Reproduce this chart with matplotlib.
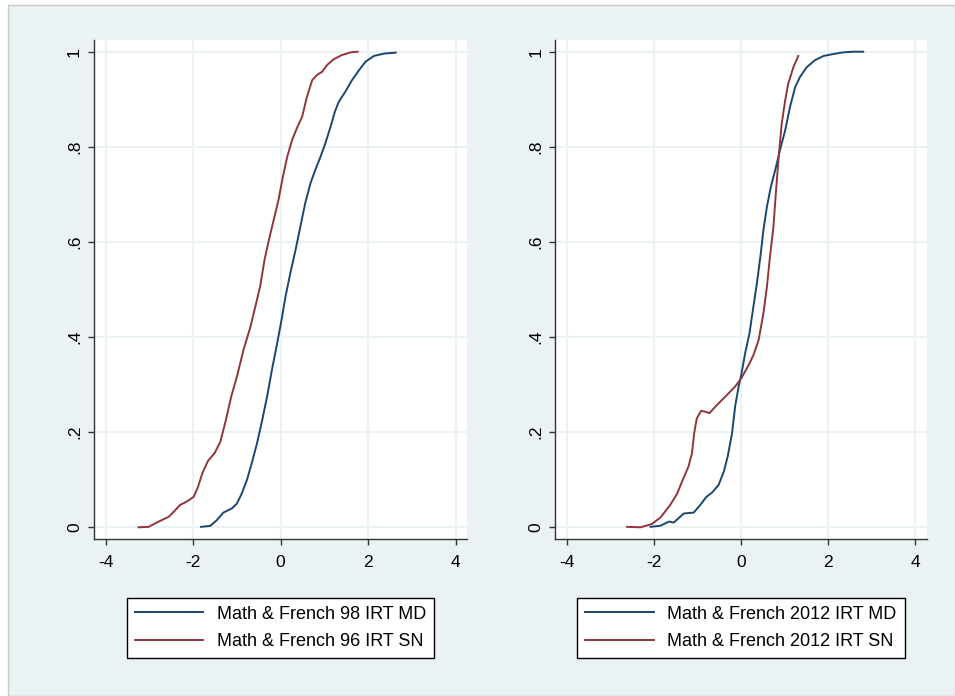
import numpy as np
import matplotlib
matplotlib.use("Agg")
import matplotlib.pyplot as plt
from matplotlib.patches import Rectangle

# %% Data

# Left panel: cumulative distributions
md98_x = [-1.82, -1.61, -1.46, -1.31, -1.11, -1.00, -0.89, -0.77, -0.66, -0.54, -0.43, -0.31, -0.20, -0.08,
          0.02, 0.11, 0.22, 0.34, 0.45, 0.56, 0.68, 0.79, 0.91, 1.02, 1.14, 1.24, 1.33, 1.48, 1.63, 1.79,
          1.94, 2.13, 2.36, 2.63]
md98_y = [0.001, 0.003, 0.015, 0.031, 0.040, 0.050, 0.071, 0.100, 0.135, 0.177, 0.222, 0.275, 0.331, 0.387,
          0.436, 0.485, 0.534, 0.583, 0.632, 0.681, 0.723, 0.751, 0.779, 0.807, 0.842, 0.874, 0.895, 0.916,
          0.940, 0.961, 0.979, 0.991, 0.996, 0.998]

sn96_x = [-3.25, -3.02, -2.79, -2.56, -2.41, -2.30, -2.15, -1.99, -1.89, -1.79, -1.66, -1.51, -1.38, -1.27,
          -1.13, -1.00, -0.85, -0.69, -0.58, -0.47, -0.37, -0.27, -0.16, -0.05, 0.05, 0.15, 0.26, 0.37, 0.49,
          0.60, 0.72, 0.83, 0.95, 1.06, 1.21, 1.40, 1.60, 1.76]
sn96_y = [0.0, 0.001, 0.012, 0.022, 0.036, 0.047, 0.054, 0.064, 0.085, 0.114, 0.140, 0.156, 0.180, 0.219,
          0.275, 0.317, 0.373, 0.422, 0.464, 0.506, 0.562, 0.604, 0.646, 0.688, 0.737, 0.779, 0.814, 0.839,
          0.863, 0.905, 0.940, 0.951, 0.958, 0.972, 0.984, 0.993, 0.9986, 1.0]

# Right panel
md12_x = [-2.08, -1.85, -1.66, -1.55, -1.44, -1.32, -1.09, -0.94, -0.80, -0.67, -0.52, -0.40, -0.31, -0.21,
          -0.14, -0.06, 0.0, 0.09, 0.19, 0.28, 0.36, 0.44, 0.51, 0.59, 0.68, 0.78, 0.89, 1.01, 1.12, 1.24,
          1.35, 1.50, 1.69, 1.89, 2.11, 2.34, 2.57, 2.80]
md12_y = [0.001, 0.0035, 0.012, 0.010, 0.019, 0.029, 0.031, 0.047, 0.064, 0.073, 0.089, 0.117, 0.149, 0.198,
          0.254, 0.296, 0.320, 0.366, 0.408, 0.464, 0.513, 0.569, 0.625, 0.674, 0.716, 0.751, 0.793, 0.835,
          0.884, 0.926, 0.947, 0.967, 0.982, 0.991, 0.995, 0.9986, 1.0, 1.0]

sn12_x = [-2.62, -2.31, -2.05, -1.85, -1.63, -1.47, -1.36, -1.21, -1.13, -1.08, -1.02, -0.92, -0.82, -0.73,
          -0.56, -0.33, -0.14, 0.0, 0.17, 0.28, 0.40, 0.51, 0.59, 0.66, 0.74, 0.80, 0.86, 0.93, 1.01, 1.08,
          1.20, 1.31]
sn12_y = [0.001, 0.0, 0.007, 0.021, 0.047, 0.071, 0.096, 0.128, 0.156, 0.198, 0.229, 0.245, 0.243, 0.240,
          0.257, 0.278, 0.296, 0.313, 0.341, 0.362, 0.394, 0.45, 0.506, 0.569, 0.632, 0.709, 0.779, 0.849,
          0.898, 0.933, 0.968, 0.991]

labels_left = ["Math & French 98 IRT MD", "Math & French 96 IRT SN"]
labels_right = ["Math & French 2012 IRT MD", "Math & French 2012 IRT SN"]

x_ticks = [-4, -2, 0, 2, 4]
y_ticks = [0, 0.2, 0.4, 0.6, 0.8, 1.0]
y_tick_labels = ["0", ".2", ".4", ".6", ".8", "1"]

# %% Style

navy = "#1A476F"
maroon = "#90353B"
bluishgray = "#EAF2F3"

plt.rcParams["font.family"] = ["Liberation Sans", "DejaVu Sans"]
tick_size = 12.5
legend_size = 13

fig = plt.figure(figsize = (9.55, 6.96), dpi = 100)
fig.patch.set_facecolor("white")
fig.patches.append(Rectangle((8 / 955, 0), 1 - 8 / 955, 1 - 5 / 696, transform = fig.transFigure,
                             facecolor = bluishgray, edgecolor = "#C8C8C8", linewidth = 1.0, zorder = -10))

ax_left = fig.add_axes([93.7 / 955, 1 - 539.3 / 696, 373.5 / 955, 499.3 / 696])
ax_right = fig.add_axes([555 / 955, 1 - 539.3 / 696, 372 / 955, 499.3 / 696])


def style_axis(ax):
    ax.set_facecolor("white")
    ax.set_xlim(-4.275, 4.265)
    ax.set_ylim(-0.0252, 1.0246)
    ax.set_xticks(x_ticks)
    ax.set_xticklabels([str(t) for t in x_ticks])
    ax.set_yticks(y_ticks)
    ax.set_yticklabels(y_tick_labels, rotation = 90, va = "center")
    ax.grid(True, color = bluishgray, linewidth = 1.5, zorder = 0)
    ax.set_axisbelow(True)
    for side in ["top", "right"]:
        ax.spines[side].set_visible(False)
    for side in ["left", "bottom"]:
        ax.spines[side].set_color("#333333")
        ax.spines[side].set_linewidth(1.0)
    ax.tick_params(direction = "out", length = 4.5, width = 1.0, color = "#333333", labelsize = tick_size)
    ax.tick_params(axis = "x", pad = 7)
    ax.tick_params(axis = "y", pad = 4)


def add_legend(ax, handles, labels):
    bbox = ax.get_position()
    leg = ax.legend(handles, labels, loc = "center", bbox_to_anchor = ((bbox.x0 + bbox.x1) / 2, 1 - 628 / 696),
                    bbox_transform = fig.transFigure, fontsize = legend_size, frameon = True, fancybox = False,
                    edgecolor = "black", framealpha = 1.0, handlelength = 3.8, handletextpad = 0.75,
                    labelspacing = 0.58, borderpad = 0.45)
    leg.get_frame().set_linewidth(1.0)


# %% Left panel

style_axis(ax_left)
l1, = ax_left.plot(md98_x, md98_y, color = navy, linewidth = 1.4)
l2, = ax_left.plot(sn96_x, sn96_y, color = maroon, linewidth = 1.4)
add_legend(ax_left, [l1, l2], labels_left)

# %% Right panel

style_axis(ax_right)
r1, = ax_right.plot(md12_x, md12_y, color = navy, linewidth = 1.4)
r2, = ax_right.plot(sn12_x, sn12_y, color = maroon, linewidth = 1.4)
add_legend(ax_right, [r1, r2], labels_right)

# %% Save

fig.savefig("out.png", dpi = 100)
